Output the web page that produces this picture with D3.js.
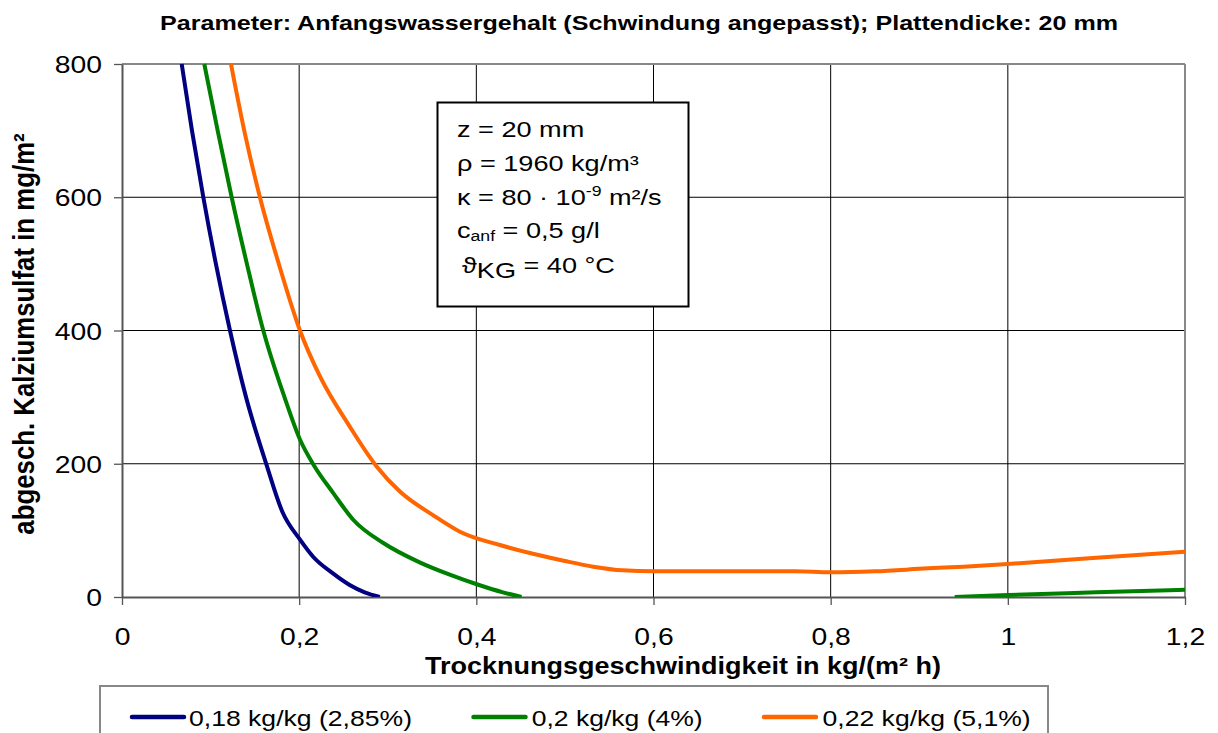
<!DOCTYPE html>
<html><head><meta charset="utf-8">
<script src="https://cdn.jsdelivr.net/npm/d3@7"></script>
<style>body{margin:0;background:#fff}svg{display:block;font-family:Arial,"Liberation Sans",sans-serif}</style>
</head><body><svg id="c" width="1218" height="733"></svg>
<script>
const title = "Parameter: Anfangswassergehalt (Schwindung angepasst); Plattendicke: 20 mm";
const xTitle = "Trocknungsgeschwindigkeit in kg/(m² h)";
const yTitle = "abgesch. Kalziumsulfat in mg/m²";
const xTicks = [0, 0.2, 0.4, 0.6, 0.8, 1, 1.2];
const yTicks = [0, 200, 400, 600, 800];
const seriesNames = ["0,18 kg/kg (2,85%)", "0,2 kg/kg (4%)", "0,22 kg/kg (5,1%)"];
const seriesColors = ["#000080", "#008000", "#FF6600"];
const blue = [[0.0674,800],[0.079,700],[0.0918,600],[0.106,500],[0.1219,400],[0.140,300],[0.163,199],[0.181,128],[0.201,86],[0.216,60],[0.2385,35],[0.257,18],[0.274,7],[0.291,0]];
const green = [[0.0929,800],[0.108,700],[0.1238,600],[0.141,500],[0.1595,400],[0.1834,300],[0.201,236],[0.216,199],[0.2385,156],[0.261,116],[0.295,81],[0.336,52],[0.37,33.5],[0.403,18],[0.43,7],[0.451,0]];
const green2 = [[0.94,0],[1.0,3],[1.1,7],[1.2,11]];
const orange = [[0.123,800],[0.138,700],[0.1557,600],[0.177,500],[0.2009,400],[0.2235,331],[0.257,256],[0.2874,196],[0.314,158],[0.351,123],[0.3815,98],[0.4266,78],[0.47,63],[0.5,54],[0.532,45.5],[0.565,40],[0.6,38.5],[0.7,38.5],[0.76,38.5],[0.8,37],[0.85,38.5],[0.91,43],[0.95,45.5],[1.0,49.5],[1.1,59],[1.2,68]];

const svg = d3.select("#c");
const L=122,R=1185,T=64,B=597;
const x = d3.scaleLinear().domain([0,1.2]).range([L,R]);
const y = d3.scaleLinear().domain([0,800]).range([B,T]);
const fmt = d => String(d).replace(".", ",");
function stretch(sel,k){ sel.each(function(){ const n=this.getComputedTextLength(); d3.select(this).attr("textLength",n*k).attr("lengthAdjust","spacingAndGlyphs"); }); }

// grid
svg.append("g").selectAll("line").data(xTicks.filter(d=>d>0&&d<1.2)).join("line")
  .attr("x1",d=>x(d)).attr("x2",d=>x(d)).attr("y1",T).attr("y2",B).attr("stroke","#000").attr("stroke-width",1);
svg.append("g").selectAll("line").data(yTicks.filter(d=>d>0&&d<800)).join("line")
  .attr("x1",L).attr("x2",R).attr("y1",d=>y(d)).attr("y2",d=>y(d)).attr("stroke","#000").attr("stroke-width",1);
svg.append("line").attr("x1",L).attr("x2",R).attr("y1",T).attr("y2",T).attr("stroke","#888").attr("stroke-width",2);
svg.append("line").attr("x1",R).attr("x2",R).attr("y1",T).attr("y2",B).attr("stroke","#888").attr("stroke-width",2);

// axes
const xa = svg.append("g").attr("transform",`translate(0,${B})`)
  .call(d3.axisBottom(x).tickValues(xTicks).tickFormat(fmt).tickSize(8).tickSizeOuter(0));
const ya = svg.append("g").attr("transform",`translate(${L},0)`)
  .call(d3.axisLeft(y).tickValues(yTicks).tickSize(8).tickSizeOuter(0));
[xa,ya].forEach(a=>{
  a.attr("font-size",null).attr("font-family",null);
  a.select(".domain").attr("stroke","#555").attr("stroke-width",2);
  a.selectAll(".tick line").attr("stroke","#555").attr("stroke-width",1.3);
  a.selectAll("text").style("font-size","24px").attr("fill","#000");
});
xa.selectAll("text").attr("dy",null).attr("y",48);
ya.selectAll("text").attr("x",-20).attr("dy","0.36em");
stretch(xa.selectAll("text"),1.18);
stretch(ya.selectAll("text"),1.18);

// curves
svg.append("clipPath").attr("id","clip").append("rect").attr("x",L).attr("y",T-2).attr("width",R-L).attr("height",B-T+2);
const line = d3.line().x(d=>x(d[0])).y(d=>y(d[1])).curve(d3.curveMonotoneX);
const g = svg.append("g").attr("clip-path","url(#clip)");
[[blue,0],[green,1],[green2,1],[orange,2]].forEach(([data,i])=>{
  g.append("path").datum(data).attr("d",line).attr("fill","none")
    .attr("stroke",seriesColors[i]).attr("stroke-width",4).attr("stroke-linejoin","round");
});

// annotation box
svg.append("rect").attr("x",437.5).attr("y",102.5).attr("width",251).attr("height",204)
  .attr("fill","#fff").attr("stroke","#000").attr("stroke-width",2);
const ag = svg.append("g").style("font-size","21.5px").attr("fill","#000");
ag.append("text").attr("x",457).attr("y",137).text("z = 20 mm");
ag.append("text").attr("x",457).attr("y",171).text("ρ = 1960 kg/m³");
const k = ag.append("text").attr("x",457).attr("y",205);
k.append("tspan").text("κ = 80 · 10");
k.append("tspan").style("font-size","14px").attr("dy",-9).text("-9");
k.append("tspan").attr("dy",9).text(" m²/s");
const c = ag.append("text").attr("x",457).attr("y",238);
c.append("tspan").text("c");
c.append("tspan").style("font-size","14px").attr("dy",3).text("anf");
c.append("tspan").attr("dy",-3).text(" = 0,5 g/l");
const t = ag.append("text").attr("x",462).attr("y",273);
t.append("tspan").text("ϑ");
t.append("tspan").attr("dy",5).text("KG");
t.append("tspan").attr("dy",-5).text(" = 40 °C");
stretch(ag.selectAll("text"),1.26);

// titles
svg.append("text").attr("x",160).attr("y",30).attr("font-weight","bold")
  .style("font-size","20.5px").attr("textLength",958).attr("lengthAdjust","spacingAndGlyphs").text(title);
svg.append("text").attr("x",425).attr("y",674).attr("font-weight","bold")
  .style("font-size","23px").attr("textLength",516).attr("lengthAdjust","spacingAndGlyphs").text(xTitle);
svg.append("text").attr("transform","translate(34,334) scale(1.15,1) rotate(-90)").attr("text-anchor","middle")
  .attr("font-weight","bold").style("font-size","25.8px").text(yTitle);

// legend
svg.append("rect").attr("x",100).attr("y",686).attr("width",948).attr("height",60)
  .attr("fill","#fff").attr("stroke","#888").attr("stroke-width",2);
const lx = [132,473.5,764], tx=[189,531.7,822.6], tl=[223,171,208];
seriesNames.forEach((n,i)=>{
  svg.append("line").attr("x1",lx[i]).attr("x2",lx[i]+52).attr("y1",717).attr("y2",717)
    .attr("stroke",seriesColors[i]).attr("stroke-width",4.5).attr("stroke-linecap","round");
  svg.append("text").attr("x",tx[i]).attr("y",726).style("font-size","22.5px")
    .attr("textLength",tl[i]).attr("lengthAdjust","spacingAndGlyphs").text(n);
});
</script></body></html>
